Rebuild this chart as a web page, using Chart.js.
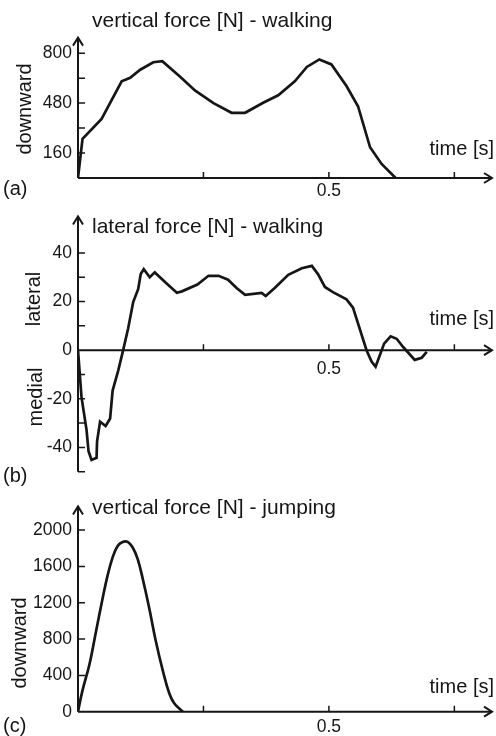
<!DOCTYPE html>
<html>
<head>
<meta charset="utf-8">
<script src="https://cdn.jsdelivr.net/npm/chart.js@4.4.1/dist/chart.umd.min.js"></script>
<style>
  html, body { margin: 0; padding: 0; background: #fff; }
  .panel { position: absolute; left: 0; width: 496px; }
  #panelA { top: 0; height: 205px; }
  #panelB { top: 200px; height: 290px; }
  #panelC { top: 490px; height: 246px; }
</style>
</head>
<body>
<div class="panel" id="panelA"><canvas id="walkVerticalChart"></canvas></div>
<div class="panel" id="panelB"><canvas id="walkLateralChart"></canvas></div>
<div class="panel" id="panelC"><canvas id="jumpVerticalChart"></canvas></div>
<script>
// (a) vertical force while walking
const walkTime = [0, 0.009, 0.047, 0.087, 0.104, 0.124, 0.150, 0.168, 0.203, 0.233, 0.270, 0.306,
  0.333, 0.369, 0.399, 0.432, 0.456, 0.481, 0.505, 0.535, 0.558, 0.582, 0.605, 0.633];
const walkVertical = [0, 251, 379, 620, 642, 694, 742, 749, 650, 561, 480, 418,
  418, 482, 530, 620, 712, 760, 728, 590, 460, 197, 90, 0];
const walkVerticalLabels = [160, 480, 800];
const walkVerticalMarks = [160, 320, 480, 640, 800];

// (b) lateral force while walking
const lateralTime = [0, 0.007, 0.017, 0.021, 0.027, 0.037, 0.038, 0.044, 0.055, 0.064, 0.069, 0.080,
  0.090, 0.100, 0.110, 0.120, 0.125, 0.131, 0.143, 0.153, 0.175, 0.197, 0.207, 0.238, 0.260, 0.280,
  0.299, 0.316, 0.333, 0.366, 0.374, 0.392, 0.419, 0.446, 0.466, 0.479, 0.492, 0.508, 0.535, 0.548,
  0.575, 0.585, 0.593, 0.610, 0.623, 0.635, 0.648, 0.671, 0.685, 0.695];
const lateralForce = [0, -19.3, -32.8, -41.6, -45.2, -44.3, -37.5, -29.4, -31.2, -28.1, -16.6, -8.5,
  0, 9, 19.8, 25.2, 31.3, 33.3, 30, 32, 27.7, 23.6, 24.2, 27, 30.6, 30.6,
  29, 25.6, 22.8, 23.6, 22.3, 25.6, 31, 33.7, 34.7, 31, 26, 23.9, 20.9, 17.5,
  0, -4.7, -6.8, 2.7, 5.7, 4.7, 1.3, -4, -3.1, -0.7];
const lateralLabels = [40, 20, 0, -20, -40];
const lateralMarks = [40, 30, 20, 10, -10, -20, -30, -40, -50];

// (c) vertical force while jumping
const jumpTime = [0, 0.009, 0.023, 0.036, 0.049, 0.059, 0.069, 0.079, 0.089, 0.099, 0.109, 0.119,
  0.129, 0.142, 0.155, 0.169, 0.182, 0.192, 0.209];
const jumpVertical = [0, 235, 525, 886, 1247, 1501, 1700, 1826, 1870, 1870, 1808, 1681,
  1464, 1139, 778, 452, 200, 91, 0];
const jumpLabels = [0, 400, 800, 1200, 1600, 2000];
const jumpMarks = [400, 800, 1200, 1600, 2000];

const timeMarks = [0.25, 0.5, 0.75];
const timeLabels = [0.5];

const INK = "#161616";
const FONT = "'Liberation Sans', Arial, sans-serif";

function drawArrowHead(ctx, x, y, dir) {
  ctx.beginPath();
  if (dir === "up") {
    ctx.moveTo(x - 5, y + 8);
    ctx.lineTo(x, y);
    ctx.lineTo(x + 5, y + 8);
  } else {
    ctx.moveTo(x - 8, y - 5);
    ctx.lineTo(x, y);
    ctx.lineTo(x - 8, y + 5);
  }
  ctx.stroke();
}

// axes with arrows, inward ticks and the loose texts around each panel
const axisDecor = {
  id: "axisDecor",
  afterDraw(chart, args, opts) {
    const { ctx, chartArea } = chart;
    const x = chart.scales.x;
    const y = chart.scales.y;
    const x0 = x.getPixelForValue(0);
    const yAxis = y.getPixelForValue(0);

    ctx.save();
    ctx.strokeStyle = INK;
    ctx.lineWidth = 2;
    ctx.lineCap = "butt";

    ctx.beginPath();
    ctx.moveTo(x0, chartArea.bottom);
    ctx.lineTo(x0, chartArea.top);
    ctx.moveTo(x0, yAxis);
    ctx.lineTo(chartArea.right, yAxis);
    ctx.stroke();
    drawArrowHead(ctx, x0, chartArea.top, "up");
    drawArrowHead(ctx, chartArea.right, yAxis, "right");

    ctx.lineWidth = 1.5;
    ctx.beginPath();
    opts.yMarks.forEach((v) => {
      const py = y.getPixelForValue(v);
      ctx.moveTo(x0, py);
      ctx.lineTo(x0 + 7, py);
    });
    timeMarks.forEach((v) => {
      const px = x.getPixelForValue(v);
      ctx.moveTo(px, yAxis);
      ctx.lineTo(px, yAxis - 6);
    });
    ctx.stroke();

    ctx.fillStyle = INK;
    ctx.textBaseline = "alphabetic";
    ctx.textAlign = "left";
    ctx.font = "21px " + FONT;
    ctx.fillText(opts.title, x0 + 14, chartArea.top + opts.titleDy);
    ctx.font = "20px " + FONT;
    ctx.fillText(opts.panel, 3, opts.panelY);
    ctx.textAlign = "right";
    ctx.fillText("time [s]", 494, yAxis + opts.timeDy);

    ctx.textAlign = "center";
    ctx.textBaseline = "middle";
    opts.yTitles.forEach((t) => {
      ctx.save();
      ctx.translate(t.x, t.y);
      ctx.rotate(-Math.PI / 2);
      ctx.fillText(t.text, 0, 0);
      ctx.restore();
    });
    ctx.restore();
  },
};

function buildPanel(canvasId, cfg) {
  const ctx = document.getElementById(canvasId);
  if (!ctx) return;

  const xScale = {
    type: "linear",
    min: 0,
    max: 0.825,
    position: cfg.xPosition,
    grid: { display: false, drawTicks: false },
    border: { display: false },
    afterBuildTicks: (scale) => {
      scale.ticks = timeLabels.map((v) => ({ value: v }));
    },
    ticks: {
      autoSkip: false,
      maxRotation: 0,
      padding: cfg.xPadding,
      color: INK,
      font: { family: FONT, size: 17.5 },
      callback: (value) => String(value),
    },
  };
  if (cfg.xHeight) {
    xScale.afterFit = (scale) => {
      scale.height = cfg.xHeight;
    };
  }

  return new Chart(ctx, {
    type: "line",
    data: {
      datasets: [
        {
          data: cfg.time.map((t, i) => ({ x: t, y: cfg.force[i] })),
          borderColor: INK,
          borderWidth: 2.7,
          pointRadius: 0,
          fill: false,
          tension: cfg.smooth ? 0.4 : 0,
        },
      ],
    },
    options: {
      responsive: true,
      maintainAspectRatio: false,
      animation: false,
      layout: { padding: cfg.padding },
      plugins: {
        legend: { display: false },
        tooltip: { enabled: false },
        axisDecor: cfg.decor,
      },
      scales: {
        x: xScale,
        y: {
          type: "linear",
          min: cfg.yMin,
          max: cfg.yMax,
          grid: { display: false, drawTicks: false },
          border: { display: false },
          afterBuildTicks: (scale) => {
            scale.ticks = cfg.yLabels.map((v) => ({ value: v }));
          },
          afterFit: (scale) => {
            scale.width = 78;
          },
          ticks: {
            autoSkip: false,
            padding: 6,
            color: INK,
            font: { family: FONT, size: 17.5 },
            callback: (value) => String(value),
          },
        },
      },
    },
    plugins: [axisDecor],
  });
}

function initializeCharts() {
  buildPanel("walkVerticalChart", {
    time: walkTime,
    force: walkVertical,
    yMin: 0,
    yMax: 900,
    yLabels: walkVerticalLabels,
    xPosition: "bottom",
    xHeight: 27,
    xPadding: 3,
    padding: { top: 37.6, right: 4, left: 0, bottom: 0 },
    decor: {
      title: "vertical force [N] - walking",
      titleDy: -10.9,
      panel: "(a)",
      panelY: 195,
      timeDy: -23,
      yMarks: walkVerticalMarks,
      yTitles: [{ text: "downward", x: 25, y: 109 }],
    },
  });

  buildPanel("walkLateralChart", {
    time: lateralTime,
    force: lateralForce,
    yMin: -50,
    yMax: 55,
    yLabels: lateralLabels,
    xPosition: { y: 0 },
    xPadding: 8,
    padding: { top: 12, right: 4, left: 0, bottom: 18.3 },
    decor: {
      title: "lateral force [N] - walking",
      titleDy: 16.3,
      panel: "(b)",
      panelY: 282,
      timeDy: -25,
      yMarks: lateralMarks,
      yTitles: [
        { text: "lateral", x: 34, y: 99 },
        { text: "medial", x: 36, y: 197 },
      ],
    },
  });

  buildPanel("jumpVerticalChart", {
    time: jumpTime,
    force: jumpVertical,
    smooth: true,
    yMin: 0,
    yMax: 2260,
    yLabels: jumpLabels,
    xPosition: "bottom",
    xHeight: 24.3,
    xPadding: 4.5,
    padding: { top: 13.3, right: 4, left: 0, bottom: 0 },
    decor: {
      title: "vertical force [N] - jumping",
      titleDy: 7.4,
      panel: "(c)",
      panelY: 242,
      timeDy: -18.5,
      yMarks: jumpMarks,
      yTitles: [{ text: "downward", x: 20, y: 153 }],
    },
  });
}

document.addEventListener("DOMContentLoaded", initializeCharts);
</script>
</body>
</html>
